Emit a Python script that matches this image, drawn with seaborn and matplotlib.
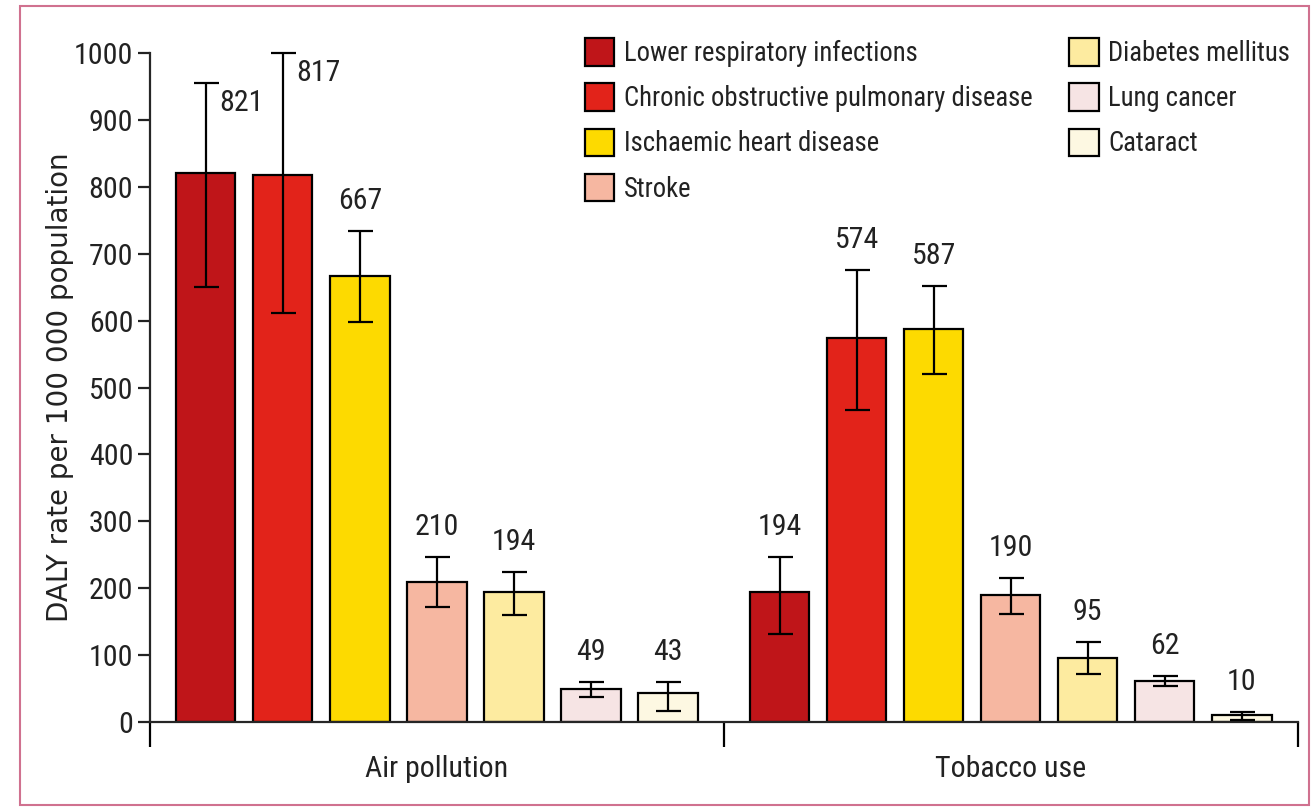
import matplotlib
matplotlib.use("Agg")
import matplotlib.pyplot as plt
import numpy as np
import pandas as pd
import seaborn as sns
from matplotlib import font_manager
from matplotlib.font_manager import FontProperties
from matplotlib.patches import Rectangle
from matplotlib.ticker import FixedLocator

groups = ["Air pollution", "Tobacco use"]
causes = [
    "Lower respiratory infections",
    "Chronic obstructive pulmonary disease",
    "Ischaemic heart disease",
    "Stroke",
    "Diabetes mellitus",
    "Lung cancer",
    "Cataract",
]
cause_colors = ["#bf1519", "#e2231a", "#fdda00", "#f6b7a1", "#fdeba0", "#f6e4e4", "#fdf8e2"]

air_values = [821, 817, 667, 210, 194, 49, 43]
air_lower = [651, 612, 598, 172, 160, 38, 17]
air_upper = [955, 1000, 734, 246, 224, 60, 60]

tobacco_values = [194, 574, 587, 190, 95, 62, 10]
tobacco_lower = [132, 467, 520, 162, 72, 54, 3]
tobacco_upper = [246, 675, 652, 216, 119, 69, 15]

y_ticks = [0, 100, 200, 300, 400, 500, 600, 700, 800, 900, 1000]
y_label = "DALY rate per 100 000 population"


def is_regular(f):
    w = f.weight
    return (w in (400, "normal", "regular", "book")) and f.style == "normal"


def pick_narrow_font():
    # a condensed regular sans, looked up by file so the weight is certain
    cands = []
    for f in font_manager.fontManager.ttflist:
        narrow = ("Condensed" in f.name or "Narrow" in f.name
                  or f.stretch in ("condensed", "semi-condensed"))
        if not narrow or not is_regular(f):
            continue
        if any(k in f.name for k in ("Mono", "Serif", "CJK")):
            continue
        fn = f.fname.lower()
        if any(k in fn for k in ("bold", "black", "light", "thin", "medium", "italic")):
            continue
        score = 0
        if "Liberation Sans Narrow" in f.name:
            score = 5
        elif "Noto Sans" in f.name:
            score = 4
        elif "Open Sans" in f.name or "Roboto" in f.name:
            score = 3
        elif "DejaVu" in f.name:
            score = 2
        cands.append((score, f.fname))
    if cands:
        cands.sort(reverse=True)
        return FontProperties(fname=cands[0][1]), 1.0
    return FontProperties(family="Liberation Sans"), 0.9


FP, SCALE = pick_narrow_font()

rows = []
for g, vals, lo, hi in [
    (groups[0], air_values, air_lower, air_upper),
    (groups[1], tobacco_values, tobacco_lower, tobacco_upper),
]:
    for c, v, l, h in zip(causes, vals, lo, hi):
        rows.append({"group": g, "cause": c, "value": v, "lower": l, "upper": h})
df = pd.DataFrame(rows)

sns.set_style("ticks")

fig = plt.figure(figsize=(13.16, 8.11), dpi=100)
ax = fig.add_axes([0.114, 0.1097, 0.872, 0.8249])

sns.barplot(
    data=df, x="group", y="value", hue="cause",
    order=groups, hue_order=causes, palette=dict(zip(causes, cause_colors)),
    saturation=1, errorbar=None, width=0.94, gap=0.23,
    edgecolor="black", linewidth=1.6, ax=ax,
)

fs = 21.5 * SCALE


def fprop(size):
    p = FP.copy()
    p.set_size(size)
    return p


# error bars + value labels, using the bar centres seaborn computed
for cause, container in zip(causes, ax.containers):
    for g, bar in zip(groups, container):
        row = df[(df.group == g) & (df.cause == cause)].iloc[0]
        xc = bar.get_x() + bar.get_width() / 2
        ax.errorbar(
            xc, row.value,
            yerr=[[row.value - row.lower], [row.upper - row.value]],
            fmt="none", ecolor="black", elinewidth=1.6, capsize=9, capthick=1.6,
            clip_on=False, zorder=5,
        )
        if row.upper >= 900:
            ax.annotate(f"{row.value}", (xc, row.upper), xytext=(13, -6),
                        textcoords="offset pixels", ha="left", va="top",
                        fontproperties=fprop(fs), color="#222222")
        else:
            ax.annotate(f"{row.value}", (xc, row.upper), xytext=(0, 16),
                        textcoords="offset pixels", ha="center", va="bottom",
                        fontproperties=fprop(fs), color="#222222")

ax.set_ylim(0, 1000)
ax.set_xlim(-0.5, 1.5)
ax.set_yticks(y_ticks)
ax.tick_params(axis="y", length=9, width=1.6, pad=3, colors="#222222")
ax.tick_params(axis="x", which="major", length=0, pad=24, colors="#222222")
ax.xaxis.set_minor_locator(FixedLocator([-0.5, 0.5, 1.5]))
ax.tick_params(axis="x", which="minor", length=18, width=1.6, color="black")
for lbl in ax.get_yticklabels() + ax.get_xticklabels():
    lbl.set_fontproperties(fprop(fs))
ax.set_xlabel("")
ax.set_ylabel(y_label, fontsize=20, family="DejaVu Sans", color="#222222", labelpad=0)
for side in ["top", "right"]:
    ax.spines[side].set_visible(False)
for side in ["left", "bottom"]:
    ax.spines[side].set_linewidth(1.6)

handles, labels = ax.get_legend_handles_labels()
ax.get_legend().remove()
fig.legend(
    handles, labels, ncol=2, loc="upper left", bbox_to_anchor=(0.4365, 0.966),
    frameon=False, prop=fprop(19.2 * SCALE), handlelength=1.1, handleheight=1.2,
    handletextpad=0.35, columnspacing=1.39, labelspacing=0.62, borderaxespad=0,
    labelcolor="#222222",
)

fig.patches.append(Rectangle((0.015, 0.007), 0.98, 0.985, transform=fig.transFigure,
                             fill=False, edgecolor="#d0718f", linewidth=1.5))

fig.savefig("out.png", dpi=100)
